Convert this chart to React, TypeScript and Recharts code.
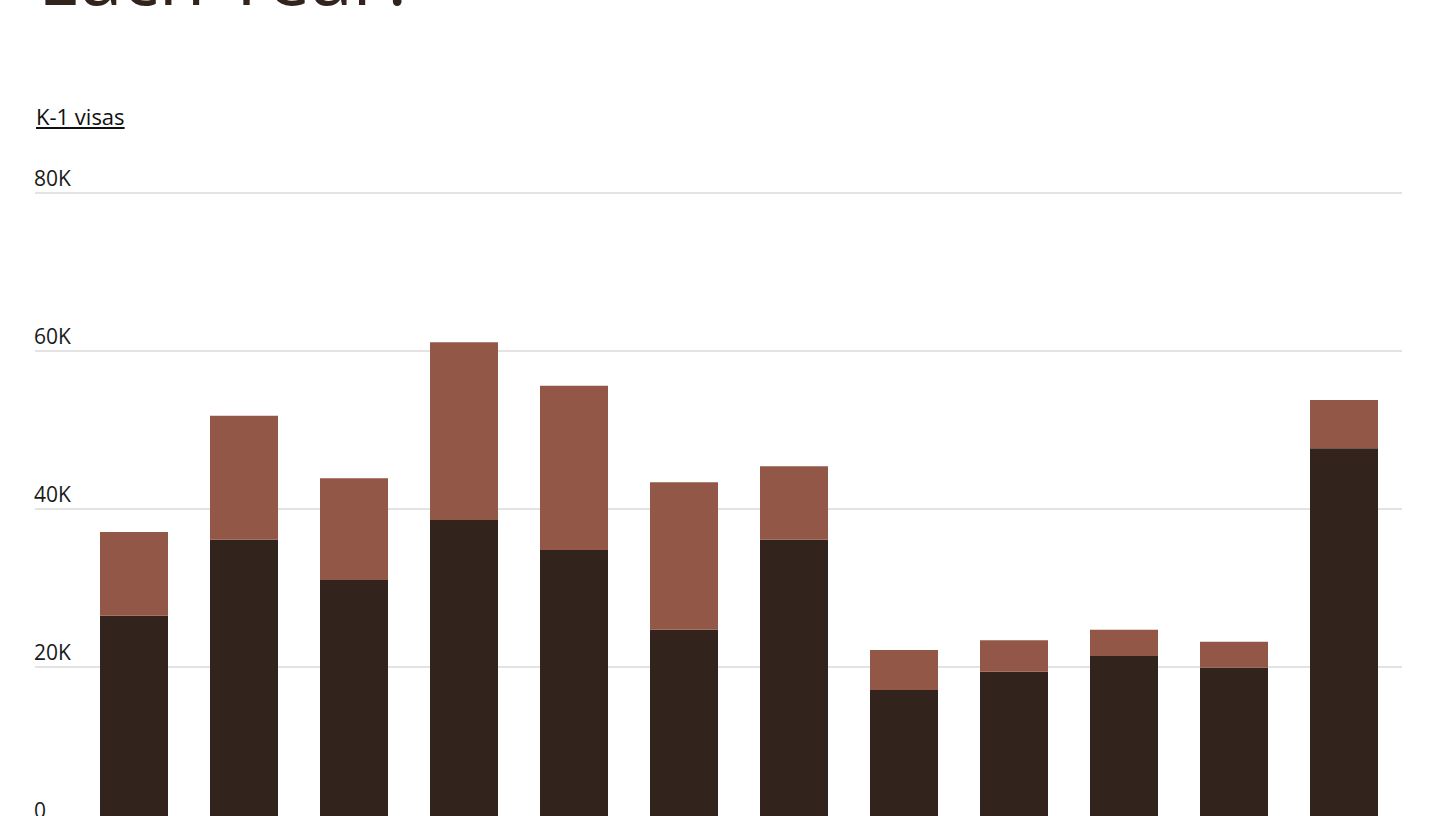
import { BarChart, Bar, XAxis, YAxis, CartesianGrid } from 'recharts'

const years = ['2012', '2013', '2014', '2015', '2016', '2017', '2018', '2019', '2020', '2021', '2022', '2023']
const k1Visas = [26500, 36100, 31000, 38600, 34800, 24700, 36100, 17100, 19400, 21400, 19900, 47700]
const totalVisas = [37100, 51800, 43900, 61100, 55600, 43400, 45400, 22150, 23400, 24700, 23200, 53800]
const yTicks = [0, 20000, 40000, 60000, 80000]

const data = years.map((year, i) => ({
    year,
    k1: k1Visas[i],
    k2: totalVisas[i] - k1Visas[i],
}))

const fmt = (v: number) => (v === 0 ? '0' : `${v / 1000}K`)

const renderYTick = (props: any) => {
    const { y, payload } = props
    return (
        <text x={34} y={y - 7} fontSize={21} fill="#1a1a1a" fontFamily="'Open Sans', sans-serif" textAnchor="start">
            {fmt(payload.value)}
        </text>
    )
}

export default function App() {
    return (
        <div style={{ position: 'fixed', top: 0, left: 0, width: 1450, height: 816, overflow: 'hidden', background: '#fff' }}>
            <div
                style={{
                    position: 'absolute',
                    top: -62,
                    left: 38,
                    fontSize: 76,
                    lineHeight: '76px',
                    fontFamily: "'Open Sans', sans-serif",
                    color: '#33231d',
                    whiteSpace: 'nowrap',
                }}
            >
                Each Year?
            </div>
            <div
                style={{
                    position: 'absolute',
                    top: 102,
                    left: 36,
                    fontSize: 22,
                    lineHeight: '28px',
                    fontFamily: "'Open Sans', sans-serif",
                    color: '#111',
                    textDecoration: 'underline',
                }}
            >
                K-1 visas
            </div>
            <div style={{ position: 'absolute', top: 0, left: 0 }}>
                <BarChart
                    width={1450}
                    height={830}
                    data={data}
                    margin={{ top: 193, right: 48, left: 34, bottom: 5 }}
                    barSize={68}
                >
                    <CartesianGrid vertical={false} stroke="#e3e3e3" strokeWidth={2} />
                    <XAxis dataKey="year" hide padding={{ left: 44, right: 3 }} />
                    <YAxis
                        width={1}
                        domain={[0, 80000]}
                        ticks={yTicks}
                        interval={0}
                        axisLine={false}
                        tickLine={false}
                        tick={renderYTick}
                    />
                    <Bar dataKey="k1" stackId="a" fill="#33231d" isAnimationActive={false} />
                    <Bar dataKey="k2" stackId="a" fill="#935748" isAnimationActive={false} />
                </BarChart>
            </div>
        </div>
    )
}
